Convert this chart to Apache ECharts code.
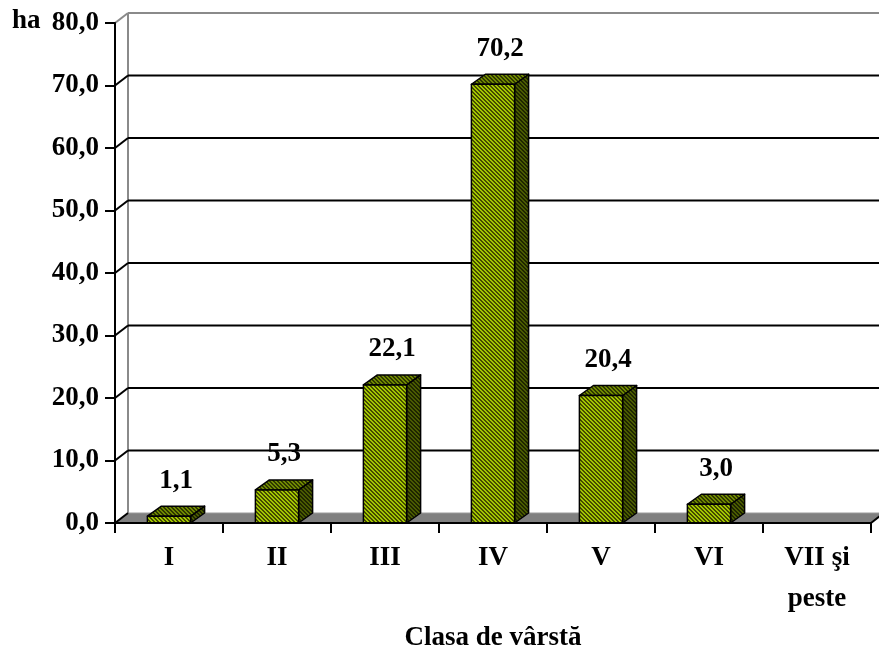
<!DOCTYPE html>
<html>
<head>
<meta charset="utf-8">
<script src="https://cdn.jsdelivr.net/npm/echarts@6/dist/echarts.min.js"></script>
<style>
  html, body { margin: 0; padding: 0; background: #fff; }
  #chart { width: 879px; height: 658px; }
</style>
</head>
<body>
<div id="chart"></div>
<script>
// Suprafaţa pe clase de vârstă (ha)
const categories = ['I', 'II', 'III', 'IV', 'V', 'VI', 'VII şi\npeste'];
const areaHa = [1.1, 5.3, 22.1, 70.2, 20.4, 3.0, null];
const yTickValues = [0, 10, 20, 30, 40, 50, 60, 70, 80];
const unitLabel = 'ha';
const axisTitle = 'Clasa de vârstă';

const FONT = "'Liberation Serif', 'Times New Roman', serif";
const FONT_SIZE = 27;
const fmt = v => v.toFixed(1).replace('.', ',');

// depth offsets of the pseudo-3D box
const WALL_DX = 13, BAR_DX = 14, DEPTH_DY = -10;

// diagonal hatch tiles for the three faces of each bar
function hatch(light, dark) {
  const c = document.createElement('canvas');
  c.width = 4; c.height = 4;
  const g = c.getContext('2d');
  for (let y = 0; y < 4; y++) {
    for (let x = 0; x < 4; x++) {
      g.fillStyle = (((x - y) % 4) + 4) % 4 < 2 ? dark : light;
      g.fillRect(x, y, 1, 1);
    }
  }
  return { image: c, repeat: 'repeat' };
}
const frontFill = hatch('#a2c800', '#464a00');
const topFill = hatch('#6f8a00', '#2f3600');
const sideFill = hatch('#4a5c00', '#1f2500');

const chart = echarts.init(document.getElementById('chart'));

function renderWalls(params, api) {
  const v = api.value(0);
  const cs = params.coordSys;
  const L = cs.x, R = cs.x + cs.width;
  const y = api.coord([0, v])[1];
  const top = v === yTickValues[yTickValues.length - 1];
  const children = [];
  if (v === 0) {
    children.push({
      type: 'polygon',
      shape: { points: [[L, y], [R, y], [R + WALL_DX, y + DEPTH_DY], [L + WALL_DX, y + DEPTH_DY]] },
      style: { fill: '#808080', stroke: '#9a9a9a', lineWidth: 1 }
    });
    children.push({
      type: 'line',
      shape: { x1: R, y1: y, x2: R + WALL_DX, y2: y + DEPTH_DY },
      style: { stroke: '#000', lineWidth: 2 }
    });
    const yTop = api.coord([0, yTickValues[yTickValues.length - 1]])[1];
    children.push({
      type: 'line',
      shape: { x1: L + WALL_DX, y1: yTop + DEPTH_DY, x2: L + WALL_DX, y2: y + DEPTH_DY },
      style: { stroke: '#8a8a8a', lineWidth: 2 }
    });
  } else {
    children.push({
      type: 'line',
      shape: { x1: L + WALL_DX, y1: y + DEPTH_DY, x2: R + WALL_DX, y2: y + DEPTH_DY },
      style: { stroke: top ? '#8a8a8a' : '#000', lineWidth: 2 }
    });
  }
  children.push({
    type: 'line',
    shape: { x1: L, y1: y, x2: L + WALL_DX, y2: y + DEPTH_DY },
    style: { stroke: top ? '#8a8a8a' : '#000', lineWidth: 2 }
  });
  return { type: 'group', children };
}

function renderBar(params, api) {
  const i = api.value(0), v = api.value(1);
  const p = api.coord([i, v]);
  const base = api.coord([i, 0]);
  const w = api.size([1, 0])[0] * 0.4;
  const x0 = p[0] - w / 2, x1 = p[0] + w / 2;
  const yt = p[1], yb = base[1];
  const edge = { stroke: '#000', lineWidth: 1.5, lineJoin: 'round' };
  return {
    type: 'group',
    children: [
      { type: 'polygon',
        shape: { points: [[x1, yt], [x1 + BAR_DX, yt + DEPTH_DY], [x1 + BAR_DX, yb + DEPTH_DY], [x1, yb]] },
        style: Object.assign({ fill: sideFill }, edge) },
      { type: 'polygon',
        shape: { points: [[x0, yt], [x1, yt], [x1 + BAR_DX, yt + DEPTH_DY], [x0 + BAR_DX, yt + DEPTH_DY]] },
        style: Object.assign({ fill: topFill }, edge) },
      { type: 'rect',
        shape: { x: x0, y: yt, width: w, height: yb - yt },
        style: Object.assign({ fill: frontFill }, edge) },
      { type: 'text',
        x: p[0] + BAR_DX / 2, y: yt - 22,
        style: { text: fmt(v), fill: '#000', font: 'bold ' + FONT_SIZE + 'px ' + FONT, align: 'center', verticalAlign: 'bottom' } }
    ]
  };
}

chart.setOption({
  animation: false,
  backgroundColor: '#fff',
  grid: { left: 115, right: 8, top: 23, bottom: 135 },
  graphic: [{
    type: 'text', left: 12, top: 8,
    style: { text: unitLabel, fill: '#000', font: 'bold ' + FONT_SIZE + 'px ' + FONT }
  }],
  xAxis: {
    type: 'category',
    data: categories,
    boundaryGap: true,
    axisLine: { lineStyle: { color: '#000', width: 2 } },
    axisTick: { show: true, interval: 0, length: 10, lineStyle: { color: '#000', width: 2 } },
    axisLabel: {
      interval: 0, margin: 15, color: '#000', fontFamily: FONT, fontWeight: 'bold',
      fontSize: FONT_SIZE, lineHeight: 41
    },
    name: axisTitle,
    nameLocation: 'middle',
    nameGap: 97,
    nameTextStyle: { color: '#000', fontFamily: FONT, fontWeight: 'bold', fontSize: FONT_SIZE },
    z: 5
  },
  yAxis: {
    type: 'value',
    min: yTickValues[0],
    max: yTickValues[yTickValues.length - 1],
    interval: 10,
    splitLine: { show: false },
    axisLine: { show: true, lineStyle: { color: '#000', width: 2 } },
    axisTick: { show: true, length: 10, lineStyle: { color: '#000', width: 2 } },
    axisLabel: {
      margin: 16, color: '#000', fontFamily: FONT, fontWeight: 'bold', fontSize: FONT_SIZE,
      formatter: v => fmt(v)
    },
    z: 5
  },
  series: [
    {
      type: 'custom',
      name: 'walls',
      clip: false,
      silent: true,
      z: 1,
      renderItem: renderWalls,
      data: yTickValues.map(v => [v])
    },
    {
      type: 'custom',
      name: 'Suprafaţă',
      clip: false,
      z: 3,
      renderItem: renderBar,
      data: areaHa.map((v, i) => [i, v]).filter(d => d[1] != null)
    }
  ]
});
</script>
</body>
</html>
